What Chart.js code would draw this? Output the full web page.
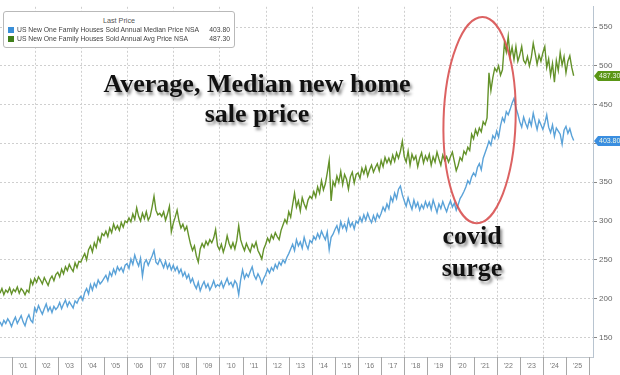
<!DOCTYPE html>
<html>
<head>
<meta charset="utf-8">
<script src="https://cdn.jsdelivr.net/npm/chart.js@4.4.1/dist/chart.umd.min.js"></script>
<style>
  html, body { margin: 0; padding: 0; background: #fff; }
  #wrap { position: relative; width: 620px; height: 375px; overflow: hidden; }
  #wrap canvas { position: absolute; left: 0; top: 0; }
  .note {
    position: absolute; text-align: center; white-space: nowrap; color: #111;
    font-family: "Liberation Serif", "Times New Roman", serif; font-weight: bold; font-size: 26px;
    text-shadow: 2px 3px 3px rgba(0,0,0,0.45);
  }
  #legend {
    position: absolute; left: 3px; top: 11px; width: 230px; height: 35px;
    border: 1px solid #b9b9b9; border-radius: 3px; background: #fff;
    font-family: "Liberation Sans", Arial, sans-serif; font-size: 6.8px; color: #444;
  }
  #legend .lt { text-align: center; margin-top: 4px; height: 9px; line-height: 9px; color: #555; font-size: 7.2px; }
  #legend .row { position: relative; height: 9px; line-height: 9px; padding-left: 13px; }
  #legend .sw { position: absolute; left: 4px; top: 1.5px; width: 6px; height: 6px; }
  #legend .val { position: absolute; right: 4px; top: 0; }
</style>
</head>
<body>
<div id="wrap">
  <canvas id="homeChart" width="620" height="375"></canvas>
  <div id="legend"></div>
  <div class="note" style="left:57px; top:69px; width:400px; line-height:30px;">Average, Median new home<br>sale price</div>
  <div class="note" style="left:422px; top:220px; width:100px; line-height:32px;">covid<br>surge</div>
</div>
<script>
// ----------------------------------------------------
// DATA (thousands of USD, monthly, Jul 2000 -> May 2025)
// ----------------------------------------------------
const startYear = 2000;
const startMonth = 6; // July (0-based)

const seriesNames = [
  'US New One Family Houses Sold Annual Median Price NSA',
  'US New One Family Houses Sold Annual Avg Price NSA'
];
const seriesColors = ['#5aa2d8', '#64922a'];
const swatchColors = ['#3a8fd8', '#3f7f1a'];
const tagColors = ['#3a8ee0', '#5a9616'];

const medianPrice = [
  170, 165, 172, 168, 174, 170,
  164, 171, 176, 168, 173, 178, 170, 165, 174, 179, 172, 169,
  188, 183, 191, 185, 180, 187, 193, 184, 189, 182, 190, 186,
  189, 195, 187, 193, 198, 190, 196, 192, 188, 197, 194, 200,
  203, 198, 208, 213, 206, 218, 211, 220, 215, 224, 219, 222,
  226, 230, 223, 234, 229, 238, 232, 241, 236, 240, 234, 243,
  245, 239, 251, 244, 256, 248, 242, 252, 229, 246, 250, 243,
  249, 255, 262, 247, 244, 251, 246, 240, 248, 239, 245, 237,
  243, 236, 241, 233, 238, 229, 234, 226, 231, 221, 226, 218,
  213, 221, 210, 217, 222, 214, 219, 211, 216, 223, 215, 218,
  216, 222, 214, 220, 226, 218, 221, 215, 223, 219, 205, 224,
  237, 226, 232, 228, 235, 241, 230, 225, 232, 227, 219, 226,
  231, 238, 233, 240, 236, 244, 239, 247, 243, 250, 246, 253,
  258, 264, 270, 262, 276, 268, 273, 265, 279, 270, 264, 275,
  272, 280, 276, 284, 278, 287, 281, 276, 286, 263, 279, 283,
  289, 294, 285, 299, 291, 296, 288, 302, 293, 298, 290, 300,
  297, 305, 299, 308, 301, 310, 303, 298, 307, 300, 309, 304,
  310, 318, 313, 322, 316, 331, 325, 336, 329, 341, 345, 334,
  326, 319, 330, 322, 315, 327, 318, 324, 314, 321, 316, 325,
  318, 324, 315, 327, 319, 311, 322, 316, 325, 318, 312, 320,
  326, 318, 323, 314, 321, 329, 333, 338, 344, 352, 348, 357,
  362, 358, 369, 374, 366, 381, 388, 395, 403, 398, 410, 406,
  416, 408, 423, 433, 428, 441, 437, 444, 452, 458, 446, 438,
  428, 421, 434, 426, 420, 431, 423, 439, 428, 418, 430, 424,
  418, 426, 437, 421, 414, 424, 409, 420, 416, 412, 399, 417,
  422, 413, 419, 410, 403.8
];

const avgPrice = [
  207, 213, 205, 211, 208, 214,
  206, 212, 209, 215, 207, 213, 210, 205, 211, 208, 224, 218,
  226, 221, 228, 224, 219, 227, 222, 217, 225, 229, 223, 231,
  234, 228, 238, 232, 241, 236, 244, 239, 235, 246, 240, 248,
  247, 253, 258, 250, 263, 268, 260, 272, 266, 279, 273, 284,
  281, 287, 280, 291, 285, 296, 289, 294, 288, 298, 292, 300,
  298, 304, 299, 309, 302, 317, 306, 300, 310, 303, 312, 301,
  306, 318, 332, 314, 308, 310, 306, 312, 301, 309, 319, 286,
  297, 305, 314, 300, 291, 296, 288, 293, 281, 270, 262, 268,
  255, 247, 264, 271, 266, 274, 269, 276, 272, 278, 289, 268,
  263, 270, 260, 268, 281, 271, 265, 272, 264, 275, 294, 276,
  268, 262, 271, 265, 260, 270, 266, 273, 262, 257, 251, 264,
  270, 278, 273, 282, 277, 285, 280, 276, 288, 295, 302, 297,
  312, 305, 321, 336, 318, 326, 313, 330, 322, 316, 327, 332,
  329, 338, 331, 344, 336, 352, 340, 348, 362, 378, 326, 351,
  345, 358, 350, 364, 347, 360, 354, 341, 357, 363, 349, 360,
  362, 355, 368, 361, 370, 358, 366, 372, 363, 369, 374, 365,
  378, 370, 382, 375, 381, 374, 385, 377, 388, 381, 390, 403,
  383, 376, 390, 372, 386, 379, 384, 370, 381, 388, 375, 384,
  378, 386, 372, 383, 376, 389, 380, 372, 385, 378, 383, 376,
  383, 389, 377, 365, 372, 382, 378, 390, 386, 395, 391, 412,
  406, 418, 411, 420, 415, 428, 424, 433, 491, 468, 485, 497,
  493, 500, 488, 495, 529, 518, 538, 512, 524, 508, 525, 506,
  514, 525, 507, 503, 512, 500, 511, 529, 516, 502, 514, 506,
  517, 525, 498, 509, 488, 503, 479, 507, 494, 517, 501, 512,
  491, 506, 513, 498, 487.3
];

const yearTicks = [2001, 2002, 2003, 2004, 2005, 2006, 2007, 2008, 2009, 2010, 2011, 2012, 2013,
                   2014, 2015, 2016, 2017, 2018, 2019, 2020, 2021, 2022, 2023, 2024, 2025];
const gridYears = [2002, 2004, 2006, 2008, 2010, 2012, 2014, 2016, 2018, 2020, 2022, 2024];
const priceTicks = [150, 200, 250, 300, 350, 400, 450, 500, 550];

// "covid surge" ring, in data units: center year, center price, half width (yrs), half height
const ring = { year: 2021.26, price: 430, dx: 1.56, dy: 133 };

// ----------------------------------------------------
// CHART
// ----------------------------------------------------
const toPoints = arr => arr.map((v, i) => ({ x: startYear + (startMonth + i) / 12, y: v }));
const lastOf = arr => arr[arr.length - 1];

// legend box (Bloomberg style)
const legendEl = document.getElementById('legend');
let legendHtml = '<div class="lt">Last Price</div>';
[medianPrice, avgPrice].forEach((arr, i) => {
  legendHtml += `<div class="row"><span class="sw" style="background:${swatchColors[i]}"></span>` +
    `${seriesNames[i]}<span class="val">${lastOf(arr).toFixed(2)}</span></div>`;
});
legendEl.innerHTML = legendHtml;

const overlay = {
  id: 'overlay',
  beforeDatasetsDraw(chart) {
    const { ctx, chartArea: a, scales: { x } } = chart;
    ctx.save();
    ctx.lineWidth = 1;
    ctx.strokeStyle = '#cfcfcf';
    ctx.setLineDash([2, 2]);
    gridYears.forEach(yr => {
      const px = Math.round(x.getPixelForValue(yr)) + 0.5;
      ctx.beginPath(); ctx.moveTo(px, a.top); ctx.lineTo(px, a.bottom); ctx.stroke();
    });
    ctx.setLineDash([]);
    ctx.strokeStyle = '#a8a8a8';
    yearTicks.forEach(yr => {
      const px = Math.round(x.getPixelForValue(yr)) + 0.5;
      ctx.beginPath(); ctx.moveTo(px, a.bottom); ctx.lineTo(px, chart.height); ctx.stroke();
    });
    const endPx = Math.round(x.getPixelForValue(2026)) + 0.5;
    ctx.beginPath(); ctx.moveTo(endPx, a.bottom); ctx.lineTo(endPx, chart.height); ctx.stroke();
    ctx.restore();
  },
  afterDraw(chart) {
    const { ctx, chartArea: a, scales: { x, y } } = chart;
    ctx.save();
    // red ring
    const cx = x.getPixelForValue(ring.year), cy = y.getPixelForValue(ring.price);
    const rx = x.getPixelForValue(ring.year + ring.dx) - cx;
    const ry = cy - y.getPixelForValue(ring.price + ring.dy);
    ctx.strokeStyle = 'rgba(214,70,70,0.85)';
    ctx.lineWidth = 2;
    ctx.beginPath(); ctx.ellipse(cx, cy, rx, ry, 0.03, 0, Math.PI * 2); ctx.stroke();

    // last price tags on the right axis
    [medianPrice, avgPrice].forEach((arr, i) => {
      const v = lastOf(arr);
      const py = Math.round(y.getPixelForValue(v));
      const x0 = a.right + 1, x1 = chart.width;
      ctx.fillStyle = tagColors[i];
      ctx.beginPath();
      ctx.moveTo(x0, py); ctx.lineTo(x0 + 4, py - 5); ctx.lineTo(x1, py - 5);
      ctx.lineTo(x1, py + 5); ctx.lineTo(x0 + 4, py + 5); ctx.closePath(); ctx.fill();
      ctx.fillStyle = '#eef6e6';
      ctx.font = '7px "Liberation Sans", Arial, sans-serif';
      ctx.textBaseline = 'middle';
      ctx.textAlign = 'left';
      ctx.fillText(v.toFixed(2), x0 + 5, py + 0.5);
    });
    ctx.restore();
  }
};

new Chart(document.getElementById('homeChart'), {
  type: 'line',
  data: {
    datasets: [
      { label: seriesNames[0], data: toPoints(medianPrice), borderColor: seriesColors[0], borderWidth: 1.4, pointRadius: 0, tension: 0 },
      { label: seriesNames[1], data: toPoints(avgPrice), borderColor: seriesColors[1], borderWidth: 1.4, pointRadius: 0, tension: 0 }
    ]
  },
  options: {
    responsive: false,
    animation: false,
    devicePixelRatio: 1,
    layout: { padding: 0 },
    plugins: { legend: { display: false }, tooltip: { enabled: false } },
    scales: {
      x: {
        type: 'linear',
        min: 2000.5,
        max: 2026.17,
        afterBuildTicks: s => { s.ticks = yearTicks.map(yr => ({ value: yr + 0.5 })); },
        afterFit: s => { s.height = 18; },
        ticks: {
          autoSkip: false, maxRotation: 0, padding: 5,
          color: '#777', font: { size: 7, family: '"Liberation Sans", Arial, sans-serif' },
          callback: v => "'" + String(Math.floor(v)).slice(2)
        },
        grid: { display: false, drawTicks: false },
        border: { display: true, color: '#c2c8ce' }
      },
      y: {
        position: 'right',
        min: 124.7,
        max: 576.2,
        afterBuildTicks: s => { s.ticks = priceTicks.map(v => ({ value: v })); },
        afterFit: s => { s.width = 27; },
        ticks: {
          padding: 2, color: '#666',
          font: { size: 8, family: '"Liberation Sans", Arial, sans-serif' }
        },
        grid: { color: '#cfcfcf', tickLength: 4, tickColor: '#888', tickBorderDash: [] },
        border: { display: true, color: '#b8c4d0', dash: [2, 2] }
      }
    }
  },
  plugins: [overlay]
});
</script>
</body>
</html>
